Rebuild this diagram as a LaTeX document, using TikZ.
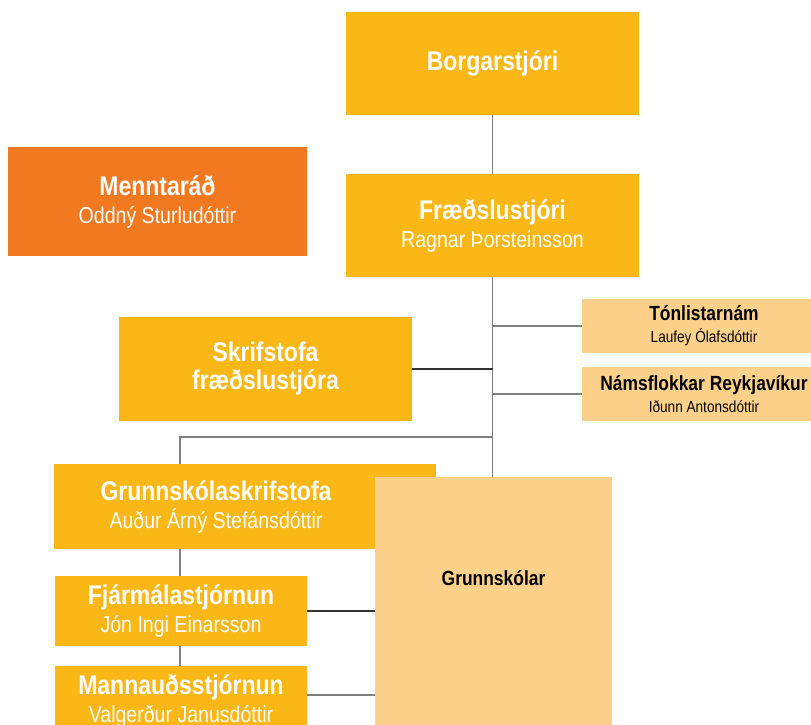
\documentclass[tikz,border=0pt]{standalone}
\usepackage{fontspec}
\setmainfont[FakeStretch=0.85]{Liberation Sans}
\definecolor{amber}{RGB}{251,183,21}
\definecolor{tangerine}{RGB}{243,121,32}
\definecolor{sand}{RGB}{253,209,137}
\definecolor{wire}{RGB}{128,128,128}
\newcommand{\who}[1]{{\fontsize{23}{26.5}\mdseries\selectfont #1}}
\newcommand{\aide}[1]{{\fontsize{16}{19.5}\mdseries\selectfont #1}}
\begin{document}
\begin{tikzpicture}[x=1pt, y=-1pt,
    unit/.style={fill=amber, text=white, inner sep=0pt, align=center, font=\fontsize{27}{28}\selectfont\bfseries},
    council/.style={unit, fill=tangerine},
    office/.style={fill=sand, text=black, inner sep=0pt, align=center, font=\fontsize{20.5}{22}\selectfont\bfseries},
    link/.style={draw=wire, line width=1.6pt},
    darklink/.style={link, draw=black!80}]
    \useasboundingbox (0,0) rectangle (811,724);
    \clip (0,0) rectangle (811,724);

    \node[unit, minimum width=293pt, minimum height=103pt] (borg) at (492.5, 63.5) {Borgarstjóri};
    \node[unit, minimum width=293pt, minimum height=103pt] (fraed) at (492.5, 225.5) {Fræðslustjóri\\\who{Ragnar Þorsteinsson}};
    \node[council, minimum width=299pt, minimum height=109pt] (mennt) at (157.5, 201.5) {Menntaráð\\\who{Oddný Sturludóttir}};

    \node[office, minimum width=244pt, minimum height=54pt] (tonl) at (704, 326) {Tónlistarnám\\\aide{Laufey Ólafsdóttir}};
    \node[office, minimum width=244pt, minimum height=54pt] (nams) at (704, 394) {Námsflokkar Reykjavíkur\\\aide{Iðunn Antonsdóttir}};
    \node[unit, minimum width=293pt, minimum height=104pt] (skrif) at (265.5, 369) {Skrifstofa\\fræðslustjóra};

    \node[unit, minimum width=382pt, minimum height=85pt] (grsk) at (245, 506.5) {};
    \node[unit, fill=none] (grsktxt) at (216, 506.5) {Grunnskólaskrifstofa\\\who{Auður Árný Stefánsdóttir}};
    \node[unit, minimum width=252pt, minimum height=70pt] (fjarm) at (181, 611) {Fjármálastjórnun\\\who{Jón Ingi Einarsson}};
    \node[unit, minimum width=252pt, minimum height=70pt] (mann) at (181, 701) {Mannauðsstjórnun\\\who{Valgerður Janusdóttir}};

    \node[office, minimum width=237pt, minimum height=260pt, anchor=north] (grunn) at (493.5, 477) {};
    \node[office, fill=none] (grunntxt) at (493.5, 578) {Grunnskólar};

    \draw[link] (borg) -- (fraed);
    \draw[link] (fraed.south) -- (fraed.south |- grunn.north);
    \draw[link] (tonl.west) -- (tonl.west -| fraed.south);
    \draw[link] (nams.west) -- (nams.west -| fraed.south);
    \draw[darklink] (skrif.east) -- (skrif.east -| fraed.south);

    \coordinate (knee) at (180, 437);
    \draw[link] (knee -| fraed.south) -- (knee) -- (knee |- grsk.north);
    \draw[link] (knee |- grsk.south) -- (knee |- fjarm.north);
    \draw[link] (knee |- fjarm.south) -- (knee |- mann.north);
    \draw[darklink] (fjarm.east) -- (fjarm.east -| grunn.west);
    \draw[link] ([yshift=6pt]mann.east) -- ([yshift=6pt]mann.east -| grunn.west);
\end{tikzpicture}
\end{document}
